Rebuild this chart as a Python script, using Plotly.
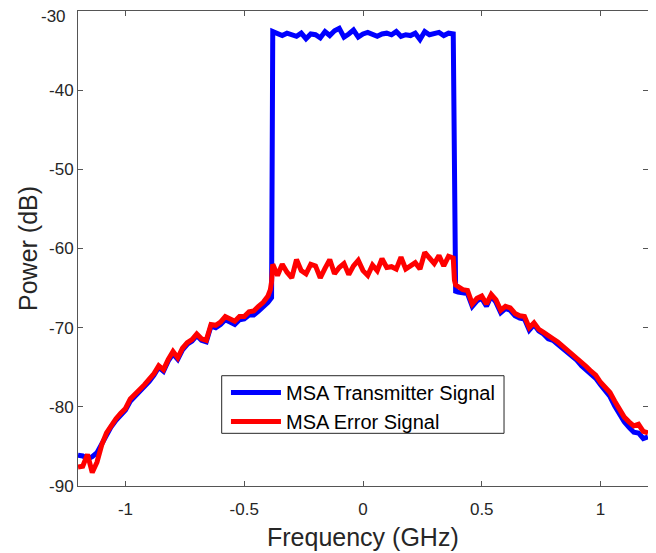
import numpy as np
import plotly.graph_objects as go

# ---------------- data ----------------
# Frequency grid segments (GHz)
freq_left = np.round(np.linspace(-1.20, -0.40, 41), 3)
freq_left_edge = [-0.39, -0.385]
freq_pass = np.round(np.linspace(-0.38, 0.38, 39), 3)
freq_right_edge = [0.385, 0.39]
freq_right = np.round(np.linspace(0.40, 1.20, 41), 3)

# MSA Error Signal (dB)
err_left = [-87.6, -87.5, -86.0, -88.3, -87.0, -84.8, -83.3, -82.3, -81.5, -80.8,
            -80.2, -79.0, -78.5, -77.8, -77.2, -76.6, -75.8, -74.8, -75.3, -74.0,
            -73.0, -73.8, -72.6, -71.9, -71.5, -70.8, -71.4, -71.6, -69.6, -69.7,
            -69.3, -68.6, -68.9, -69.2, -68.6, -68.6, -68.0, -67.9, -67.3, -66.8,
            -66.0]
err_left_edge = [-65.2, -64.2]
err_pass = [-62.0, -63.4, -62.0, -63.0, -63.7, -61.4, -62.8, -63.2, -62.0, -62.2,
            -63.7, -62.5, -61.4, -63.2, -62.4, -61.9, -63.3, -62.2, -61.5, -62.8,
            -63.4, -62.1, -62.8, -61.3, -62.4, -62.3, -62.6, -61.1, -62.6, -62.2,
            -61.8, -62.6, -60.5, -61.2, -61.9, -60.9, -62.2, -61.0, -61.2]
err_right_edge = [-64.0, -64.6]
err_right = [-64.8, -65.2, -65.3, -67.0, -66.3, -66.0, -67.0, -65.8, -66.5, -67.8,
             -67.3, -67.5, -68.2, -68.5, -68.6, -70.0, -69.4, -70.2, -70.6, -71.1,
             -71.4, -71.8, -72.3, -72.9, -73.2, -73.8, -74.4, -74.9, -75.5, -76.0,
             -76.9, -77.6, -78.2, -79.3, -80.4, -81.3, -81.9, -82.4, -82.2, -83.1,
             -83.3]

# MSA Transmitter Signal (dB)
tx_left = [-86.1, -86.2, -86.6, -86.3, -85.8, -84.6, -83.4, -82.5, -81.7, -81.0,
           -80.4, -79.3, -78.7, -78.0, -77.4, -76.8, -76.0, -75.0, -75.5, -74.2,
           -73.3, -74.0, -72.8, -72.1, -71.7, -71.0, -71.6, -71.8, -69.8, -70.0,
           -69.6, -69.0, -69.3, -69.6, -69.0, -68.9, -68.4, -68.4, -67.9, -67.4,
           -66.8]
tx_left_edge = [-66.4, -66.2]
tx_pass = [-32.6, -32.9, -33.1, -32.8, -33.0, -33.2, -32.8, -33.5, -32.9, -33.0,
           -33.4, -32.6, -33.1, -32.5, -32.2, -33.3, -32.9, -32.4, -33.3, -32.9,
           -32.7, -33.0, -33.2, -32.9, -32.8, -33.0, -32.6, -33.2, -33.0, -33.1,
           -32.8, -33.6, -32.6, -33.0, -32.9, -32.7, -33.1, -32.8, -32.9]
tx_right_edge = [-65.0, -65.4]
tx_right = [-65.5, -65.6, -65.7, -67.3, -66.6, -66.3, -67.3, -66.0, -66.8, -68.1,
            -67.6, -67.8, -68.5, -68.8, -68.9, -70.3, -69.6, -70.4, -70.8, -71.4,
            -71.6, -72.1, -72.6, -73.1, -73.4, -74.1, -74.8, -75.3, -75.9, -76.4,
            -77.2, -78.0, -78.7, -79.9, -81.0, -81.9, -82.6, -83.2, -83.3, -84.0,
            -83.8]

x_ticks = [-1, -0.5, 0, 0.5, 1]
x_ticklabels = ["-1", "-0.5", "0", "0.5", "1"]
y_ticks = [-90, -80, -70, -60, -50, -40, -30]
y_ticklabels = ["-90", "-80", "-70", "-60", "-50", "-40", ""]
top_ticklabel = "-30"

# ---------------- assemble ----------------
freq_all = list(freq_left) + freq_left_edge + list(freq_pass) + freq_right_edge + list(freq_right)
tx_all = tx_left + tx_left_edge + tx_pass + tx_right_edge + tx_right
err_all = err_left + err_left_edge + err_pass + err_right_edge + err_right

FONT = "Liberation Sans, Arial, Helvetica, sans-serif"
AX = "#262626"

fig = go.Figure()
fig.add_trace(go.Scatter(x=freq_all, y=tx_all, mode="lines",
                         name="MSA Transmitter Signal",
                         line=dict(color="#0000ff", width=5)))
fig.add_trace(go.Scatter(x=freq_all, y=err_all, mode="lines",
                         name="MSA Error Signal",
                         line=dict(color="#ff0000", width=5)))

axis_common = dict(
    showgrid=False, zeroline=False, showline=True, linecolor="#555555", linewidth=1,
    mirror="ticks", ticks="inside", ticklen=5, tickcolor="#555555",
    tickfont=dict(family=FONT, size=17, color=AX), automargin=False,
    ticklabeloverflow="allow",
)
fig.update_xaxes(range=[-1.2, 1.2], tickvals=x_ticks, ticktext=x_ticklabels,
                 ticklabelstandoff=8, **axis_common)
fig.update_yaxes(range=[-90, -30], tickvals=y_ticks, ticktext=y_ticklabels,
                 ticklabelstandoff=0, **axis_common)

# top tick label sits slightly below the axis top, as in the reference
fig.add_annotation(text=top_ticklabel, xref="paper", yref="paper",
                   x=-0.017, y=0.9888, xanchor="right", yanchor="middle",
                   showarrow=False, font=dict(family=FONT, size=17, color=AX))

fig.add_annotation(text="Frequency (GHz)", xref="paper", yref="paper",
                   x=0.5, y=-0.1074, xanchor="center", yanchor="middle",
                   showarrow=False, font=dict(family=FONT, size=25, color=AX))
fig.add_annotation(text="Power (dB)", xref="paper", yref="paper",
                   x=-0.0886, y=0.5, xanchor="center", yanchor="middle", textangle=-90,
                   showarrow=False, font=dict(family=FONT, size=25, color=AX))

# legend frame
fig.add_shape(type="rect", xref="paper", yref="paper",
              x0=0.2521, x1=0.7474, y0=0.1109, y1=0.2322,
              line=dict(color=AX, width=1), fillcolor="white", layer="above")

fig.update_layout(
    width=648, height=545,
    margin=dict(l=70, r=8, t=3, b=67),
    paper_bgcolor="white", plot_bgcolor="white",
    legend=dict(x=0.2596, y=0.238, xanchor="left", yanchor="top",
                bgcolor="rgba(0,0,0,0)", borderwidth=0,
                font=dict(family=FONT, size=20, color="#000000"),
                itemwidth=50, tracegroupgap=0),
    showlegend=True,
)

fig.write_html("out.html")
